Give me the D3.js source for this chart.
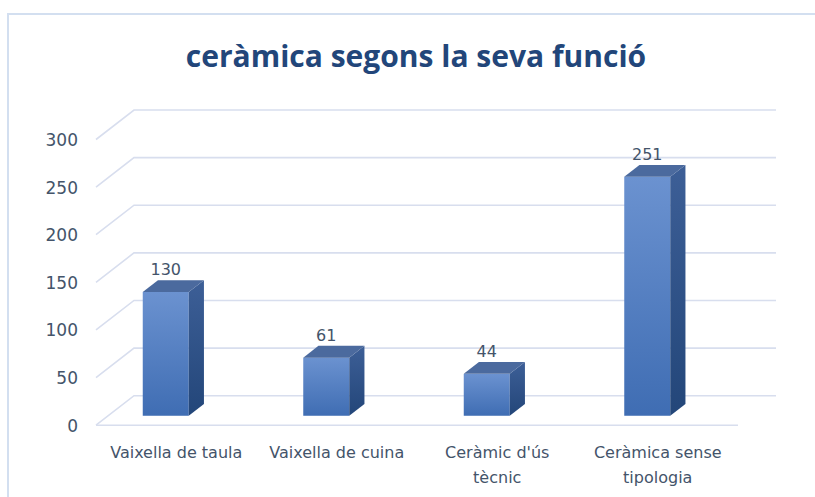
<!DOCTYPE html>
<html>
<head>
<meta charset="utf-8">
<script src="https://cdn.jsdelivr.net/npm/d3@7"></script>
<style>
  html, body { margin: 0; padding: 0; background: #fff; }
  svg { display: block; }
</style>
</head>
<body>
<div id="chart"></div>
<script>
const categories = [["Vaixella de taula"], ["Vaixella de cuina"], ["Ceràmic d'ús", "tècnic"], ["Ceràmica sense", "tipologia"]]
const values = [130, 61, 44, 251]
const yTicks = [0, 50, 100, 150, 200, 250, 300]
const title = "ceràmica segons la seva funció"

const width = 815
const height = 497

// 3d geometry
const depthX = 38
const depthY = -29.5
const barFront = 0.32      // share of depth in front of the bar
const barDepth = 0.4
const barWidth = 46
const barShift = -10.5

const svg = d3.select("#chart").append("svg")
    .attr("width", width)
    .attr("height", height)

svg.append("rect")
    .attr("width", width)
    .attr("height", height)
    .attr("fill", "#fff")

// chart border (runs off right and bottom)
svg.append("path")
    .attr("d", "M8," + (height + 5) + "V14H" + (width + 5))
    .attr("fill", "none")
    .attr("stroke", "#d3dff0")
    .attr("stroke-width", 2)

svg.append("text")
    .text(title)
    .attr("x", 416)
    .attr("y", 67)
    .attr("text-anchor", "middle")
    .attr("font-family", "'Open Sans', sans-serif")
    .attr("font-weight", "bold")
    .attr("font-size", 30)
    .attr("fill", "#22467a")

const x = d3.scaleBand()
    .domain(d3.range(categories.length))
    .range([96, 738])

const y = d3.scaleLinear()
    .domain([0, 300])
    .range([425.2, 139.5])

const grid = svg.append("g")
    .attr("fill", "none")
    .attr("stroke", "#d8deee")
    .attr("stroke-width", 1.6)

yTicks.forEach(t => {
    const yf = y(t)
    grid.append("path")
        .attr("d", "M" + x.range()[0] + "," + yf +
            "L" + (x.range()[0] + depthX) + "," + (yf + depthY) +
            "H" + (x.range()[1] + depthX))
})
grid.append("path")
    .attr("d", "M" + x.range()[0] + "," + y(0) + "H" + x.range()[1])

svg.append("g")
    .selectAll("text")
    .data(yTicks)
    .join("text")
    .attr("x", 78)
    .attr("y", d => y(d) + 1.5)
    .attr("text-anchor", "end")
    .attr("dominant-baseline", "middle")
    .attr("font-family", "'DejaVu Sans', sans-serif")
    .attr("font-size", 17)
    .attr("fill", "#44546a")
    .text(d => d)

const defs = svg.append("defs")
const gradFront = defs.append("linearGradient").attr("id", "gFront")
    .attr("x1", 0).attr("y1", 0).attr("x2", 0).attr("y2", 1)
gradFront.append("stop").attr("offset", 0).attr("stop-color", "#6b92d0")
gradFront.append("stop").attr("offset", 1).attr("stop-color", "#3f6db3")
const gradSide = defs.append("linearGradient").attr("id", "gSide")
    .attr("x1", 0).attr("y1", 0).attr("x2", 0).attr("y2", 1)
gradSide.append("stop").attr("offset", 0).attr("stop-color", "#3d5f97")
gradSide.append("stop").attr("offset", 1).attr("stop-color", "#234679")

const fx = (d, i) => x(i) + x.bandwidth() / 2 + barShift - barWidth / 2
const offY = depthY * barFront
const dX = depthX * barDepth
const dY = depthY * barDepth

const bars = svg.append("g")
    .selectAll("g")
    .data(values)
    .join("g")

bars.append("rect")
    .attr("x", fx)
    .attr("y", d => y(d) + offY)
    .attr("width", barWidth)
    .attr("height", d => y(0) - y(d))
    .attr("fill", "url(#gFront)")

bars.append("path")
    .attr("fill", "url(#gSide)")
    .attr("d", (d, i) => {
        const x1 = fx(d, i) + barWidth
        const yt = y(d) + offY
        const yb = y(0) + offY
        return "M" + x1 + "," + yt + "L" + (x1 + dX) + "," + (yt + dY) +
            "L" + (x1 + dX) + "," + (yb + dY) + "L" + x1 + "," + yb + "Z"
    })

bars.append("path")
    .attr("fill", "#4b6a9e")
    .attr("d", (d, i) => {
        const x0 = fx(d, i)
        const yt = y(d) + offY
        return "M" + x0 + "," + yt + "L" + (x0 + dX) + "," + (yt + dY) +
            "H" + (x0 + barWidth + dX) + "L" + (x0 + barWidth) + "," + yt + "Z"
    })

bars.append("text")
    .attr("x", (d, i) => fx(d, i) + barWidth / 2)
    .attr("y", d => y(d) + offY + dY - 5)
    .attr("text-anchor", "middle")
    .attr("font-family", "'DejaVu Sans', sans-serif")
    .attr("font-size", 16)
    .attr("fill", "#44546a")
    .text(d => d)

svg.append("g")
    .selectAll("text")
    .data(categories)
    .join("text")
    .attr("y", 457.5)
    .attr("text-anchor", "middle")
    .attr("font-family", "'DejaVu Sans', sans-serif")
    .attr("font-size", 16)
    .attr("fill", "#44546a")
    .each(function (d, i) {
        const cx = x(i) + x.bandwidth() / 2
        d3.select(this).selectAll("tspan")
            .data(d)
            .join("tspan")
            .attr("x", cx)
            .attr("dy", (l, j) => j ? 25 : 0)
            .text(l => l)
    })
</script>
</body>
</html>
